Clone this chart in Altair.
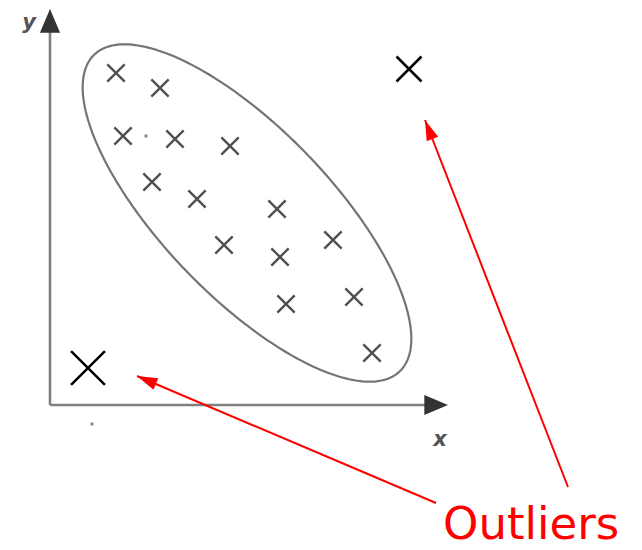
import altair as alt
import numpy as np
import pandas as pd

# ---- data (reference pixel coordinates) ----
cluster_x = [116, 160, 123, 175, 230, 152, 197, 277, 224, 333, 280, 286, 354, 372]
cluster_y = [73, 88, 136, 139, 146, 182, 199, 209, 245, 240, 257, 304, 297, 353]
outlier_x = [409, 88]
outlier_y = [69, 368]
outlier_size = [625, 1150]
dot_x = [146, 92]
dot_y = [136, 424]

# ellipse parameters
ell_cx, ell_cy, ell_a, ell_b, ell_deg = 247, 213, 220, 84, 46

# axes
origin = (50, 405)
axis_end_x = 430
axis_end_y = 30
axis_label_text = ["y", "x"]
axis_label_x = [29, 440]
axis_label_y = [29, 446]

# red arrows (start -> tip)
arrow_x1 = [568, 436]
arrow_y1 = [487, 503]
arrow_x2 = [425, 137]
arrow_y2 = [120, 376]
callout_text = "Outliers"
callout_x, callout_y = 443, 539

X = alt.Scale(domain=[8, 634], nice=False, zero=False)
Y = alt.Scale(domain=[8, 542], nice=False, zero=False, reverse=True)


def xe(f):
    return alt.X(f, type="quantitative", scale=X, axis=None)


def ye(f):
    return alt.Y(f, type="quantitative", scale=Y, axis=None)


# ellipse
t = np.linspace(0, 2 * np.pi, 241)
th = np.deg2rad(ell_deg)
ex = ell_cx + ell_a * np.cos(t) * np.cos(th) - ell_b * np.sin(t) * np.sin(th)
ey = ell_cy + ell_a * np.cos(t) * np.sin(th) + ell_b * np.sin(t) * np.cos(th)
ell_df = pd.DataFrame({"x": ex, "y": ey, "i": np.arange(len(t))})
ellipse = alt.Chart(ell_df).mark_line(color="#747474", strokeWidth=2.2).encode(
    x=xe("x"), y=ye("y"), order="i:Q")

xshape = "M-1,-1L1,1M-1,1L1,-1"
cl_df = pd.DataFrame({"x": cluster_x, "y": cluster_y})
cluster = alt.Chart(cl_df).mark_point(
    shape=xshape, size=300, color="#505050", strokeWidth=2.4, opacity=1
).encode(x=xe("x"), y=ye("y"))

out_df = pd.DataFrame({"x": outlier_x, "y": outlier_y, "s": outlier_size})
outliers = alt.Chart(out_df).mark_point(
    shape=xshape, color="#000000", strokeWidth=2.5, opacity=1
).encode(x=xe("x"), y=ye("y"), size=alt.Size("s:Q", scale=None, legend=None))

dot_df = pd.DataFrame({"x": dot_x, "y": dot_y})
dots = alt.Chart(dot_df).mark_square(size=9, color="#888888", opacity=1).encode(
    x=xe("x"), y=ye("y"))

# axes lines
ax_df = pd.DataFrame({
    "x": [origin[0], origin[0]], "y": [origin[1], origin[1]],
    "x2": [axis_end_x, origin[0]], "y2": [origin[1], axis_end_y],
})
axes = alt.Chart(ax_df).mark_rule(color="#808080", strokeWidth=2.6).encode(
    x=xe("x"), y=ye("y"), x2="x2:Q", y2="y2:Q")

tip = "M0,0L-0.85,2L0.85,2Z"
head_df = pd.DataFrame({"x": [448, origin[0]], "y": [origin[1], 9], "a": [90, 0]})
axis_heads = alt.Chart(head_df).mark_point(
    shape=tip, size=560, filled=True, color="#333333", opacity=1
).encode(x=xe("x"), y=ye("y"), angle=alt.Angle("a:Q", scale=None))

lab_df = pd.DataFrame({"t": axis_label_text, "x": axis_label_x, "y": axis_label_y})
axis_labels = alt.Chart(lab_df).mark_text(
    font="DejaVu Sans", fontSize=21, fontStyle="italic", fontWeight="bold",
    color="#555555", baseline="alphabetic", align="center"
).encode(x=xe("x"), y=ye("y"), text="t:N")

# red arrows
ar_df = pd.DataFrame({"x1": arrow_x1, "y1": arrow_y1, "x2": arrow_x2, "y2": arrow_y2})
ar_df["a"] = (np.degrees(np.arctan2(ar_df.x2 - ar_df.x1, -(ar_df.y2 - ar_df.y1))) + 360) % 360
arrows = alt.Chart(ar_df).mark_rule(color="#ff0000", strokeWidth=2).encode(
    x=xe("x1"), y=ye("y1"), x2="x2:Q", y2="y2:Q")
arrow_heads = alt.Chart(ar_df).mark_point(
    shape="M0,0L-0.6,2L0.6,2Z", size=420, filled=True, color="#ff0000", opacity=1
).encode(x=xe("x2"), y=ye("y2"), angle=alt.Angle("a:Q", scale=None))

txt_df = pd.DataFrame({"t": [callout_text], "x": [callout_x], "y": [callout_y]})
callout = alt.Chart(txt_df).mark_text(
    font="DejaVu Sans", fontSize=45, color="#ff0000", align="left", baseline="alphabetic"
).encode(x=xe("x"), y=ye("y"), text="t:N")

chart = alt.layer(
    ellipse, axes, axis_heads, axis_labels, cluster, dots, outliers,
    arrows, arrow_heads, callout
).properties(width=626, height=534, padding=0).configure_view(stroke=None)

chart.save("out.html", embed_options={"renderer": "svg", "actions": False})
